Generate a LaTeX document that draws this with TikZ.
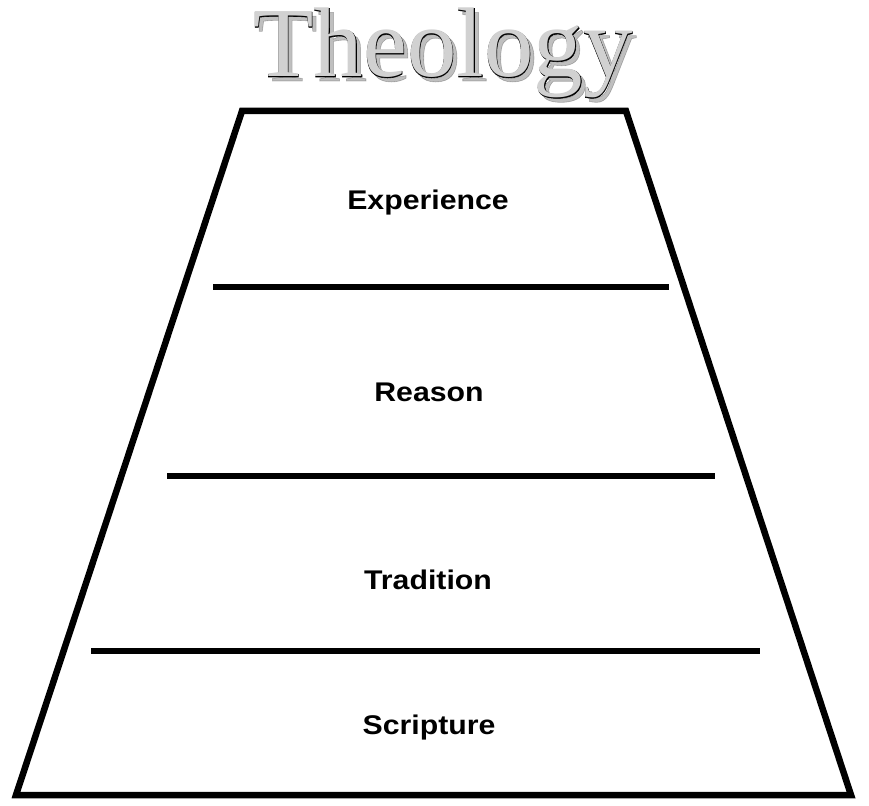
\documentclass[tikz,border=0pt]{standalone}
\usepackage{fontspec}
\newfontfamily\titlefont{Liberation Serif}
\newfontfamily\titleboldfont[FakeBold=0.6]{Liberation Serif}
\newfontfamily\labelfont[FakeStretch=1.12]{Liberation Sans Bold}
\begin{document}
\begin{tikzpicture}[x=1pt,y=-1pt,
  frame/.style={line width=6.5pt,line join=miter,line cap=butt},
  divider/.style={line width=6pt,line cap=butt},
  layer/.style={font=\labelfont\fontsize{27}{30}\selectfont,anchor=base,inner sep=0pt},
  titletext/.style={anchor=base,inner sep=0pt}]
\useasboundingbox (0,0) rectangle (869,805);
% title: shadow, black outline layer, grey face
\node[titletext,text=black,opacity=0.25,font=\titleboldfont\fontsize{99}{110}\selectfont] (titleshadow) at (447,81) {Theology};
\node[titletext,text=black,font=\titleboldfont\fontsize{99}{110}\selectfont] (titleoutline) at (443,77) {Theology};
\node[titletext,text=black!18,font=\titlefont\fontsize{99}{110}\selectfont] (title) at (443,77) {Theology};
% trapezoid
\coordinate (tl) at (242,111);
\coordinate (tr) at (626,111);
\coordinate (br) at (851,795);
\coordinate (bl) at (16,795);
\draw[frame] (tl) -- (tr) -- (br) -- (bl) -- cycle;
% dividers
\coordinate (d1l) at (213,287); \coordinate (d1r) at (669,287);
\coordinate (d2l) at (167,476); \coordinate (d2r) at (715,476);
\coordinate (d3l) at (91,651);  \coordinate (d3r) at (760,651);
\draw[divider] (d1l) -- (d1r);
\draw[divider] (d2l) -- (d2r);
\draw[divider] (d3l) -- (d3r);
% labels
\node[layer] (experience) at (428,209) {Experience};
\node[layer] (reason) at (429,401) {Reason};
\node[layer] (tradition) at (428,589) {Tradition};
\node[layer] (scripture) at (429,734) {Scripture};
\end{tikzpicture}
\end{document}
